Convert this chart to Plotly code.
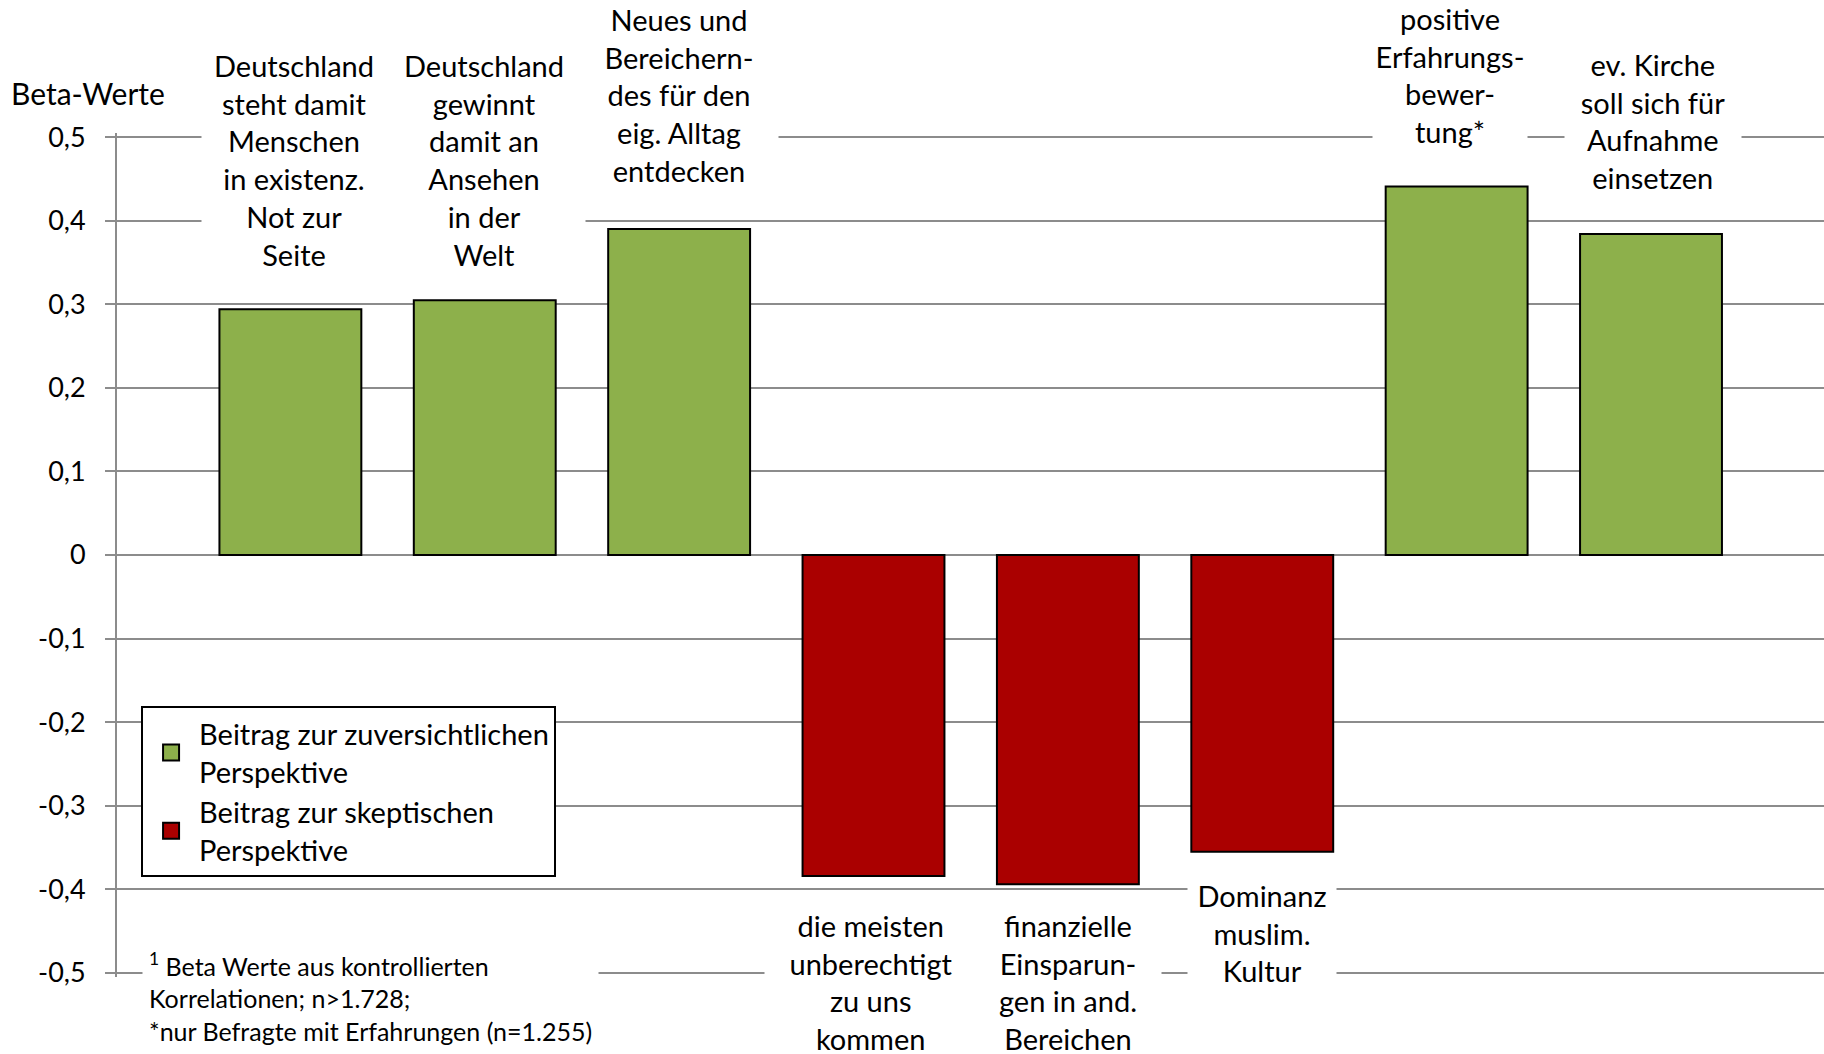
import plotly.graph_objects as go

# ---- data ----
categories = [
    "Deutschland<br>steht damit<br>Menschen<br>in existenz.<br>Not zur<br>Seite",
    "Deutschland<br>gewinnt<br>damit an<br>Ansehen<br>in der<br>Welt",
    "Neues und<br>Bereichern-<br>des für den<br>eig. Alltag<br>entdecken",
    "die meisten<br>unberechtigt<br>zu uns<br>kommen",
    "finanzielle<br>Einsparun-<br>gen in and.<br>Bereichen",
    "Dominanz<br>muslim.<br>Kultur",
    "positive<br>Erfahrungs-<br>bewer-<br>tung*",
    "ev. Kirche<br>soll sich für<br>Aufnahme<br>einsetzen",
]
beta_values = [0.294, 0.305, 0.390, -0.384, -0.394, -0.355, 0.441, 0.384]
series_names = ["Beitrag zur zuversichtlichen<br>Perspektive",
                "Beitrag zur skeptischen<br>Perspektive"]
tick_vals = [0.5, 0.4, 0.3, 0.2, 0.1, 0, -0.1, -0.2, -0.3, -0.4, -0.5]
tick_text = ["0,5", "0,4", "0,3", "0,2", "0,1", "0", "-0,1", "-0,2", "-0,3", "-0,4", "-0,5"]
footnote = ("<sup>1</sup> Beta Werte aus kontrollierten<br>Korrelationen; n>1.728;<br>"
            "*nur Befragte mit Erfahrungen (n=1.255)")
y_title = "Beta-Werte"

# ---- styles ----
GREEN = "#8DB04B"
RED = "#AA0000"
GRID = "#8C8C8C"
FONT = "Lato"
label_shift = [35, 26, 39, -30, -22, -24, 35, 37]
label_xshift = [4, -1, 0, -3, 0, 0, -7, 2]
label_width = [182, 200, 196, 210, 184, 146, 152, 174]

pos_vals = [v if v > 0 else None for v in beta_values]
neg_vals = [v if v < 0 else None for v in beta_values]
colors = [GREEN, RED]

fig = go.Figure()
for vals, col, name in zip([pos_vals, neg_vals], colors, series_names):
    fig.add_trace(go.Bar(x=categories, y=vals, name=name, showlegend=False,
                         marker=dict(color=col, line=dict(color="black", width=2)),
                         width=0.73))
# legend entries (square swatches)
for col, name in zip(colors, series_names):
    fig.add_trace(go.Scatter(x=[None], y=[None], mode="markers", name=name,
                             marker=dict(symbol="square", size=20, color=col,
                                         line=dict(color="black", width=2))))

for cat, v, sh, xs, w in zip(categories, beta_values, label_shift, label_xshift, label_width):
    fig.add_annotation(x=cat, y=v, xref="x", yref="y", text=cat, showarrow=False,
                       yanchor="bottom" if v > 0 else "top", yshift=sh, xshift=xs,
                       width=w, align="center", bgcolor="white", borderpad=1,
                       font=dict(family=FONT, size=29, color="black"))

fig.add_annotation(x=-0.0633, y=1.0472, xref="paper", yref="paper", text=y_title,
                   showarrow=False, xanchor="left", yanchor="middle",
                   font=dict(family=FONT, size=30, color="black"))
fig.add_annotation(x=0.0146, y=0.0423, xref="paper", yref="paper", text=footnote,
                   showarrow=False, xanchor="left", yanchor="top", align="left",
                   bgcolor="white", borderpad=6,
                   font=dict(family=FONT, size=25, color="black"))

fig.update_layout(
    width=1824, height=1054,
    margin=dict(l=117, r=0, t=133, b=77),
    paper_bgcolor="white", plot_bgcolor="white",
    barmode="overlay",
    showlegend=True,
    legend=dict(x=0.0141, y=0.3208, xanchor="left", yanchor="top",
                bgcolor="white", bordercolor="black", borderwidth=2,
                font=dict(family=FONT, size=29, color="black"),
                tracegroupgap=0, itemsizing="trace", itemwidth=46),
    font=dict(family=FONT, color="black"),
)
fig.update_xaxes(type="category", categoryorder="array", categoryarray=categories,
                 range=[-0.892, 7.89], showticklabels=False, showgrid=False,
                 zeroline=False, showline=False, ticks="")
fig.update_yaxes(range=[-0.505, 0.505], tickvals=tick_vals, ticktext=tick_text,
                 showgrid=True, gridcolor=GRID, gridwidth=2,
                 zeroline=True, zerolinecolor=GRID, zerolinewidth=2,
                 showline=True, linecolor=GRID, linewidth=2,
                 ticks="outside", ticklen=10, tickwidth=2, tickcolor=GRID,
                 ticklabelstandoff=14,
                 tickfont=dict(family=FONT, size=27, color="black"))

fig.write_html("out.html", config={"displayModeBar": False},
               post_script="document.body.style.margin='0';document.body.style.overflow='hidden';")
